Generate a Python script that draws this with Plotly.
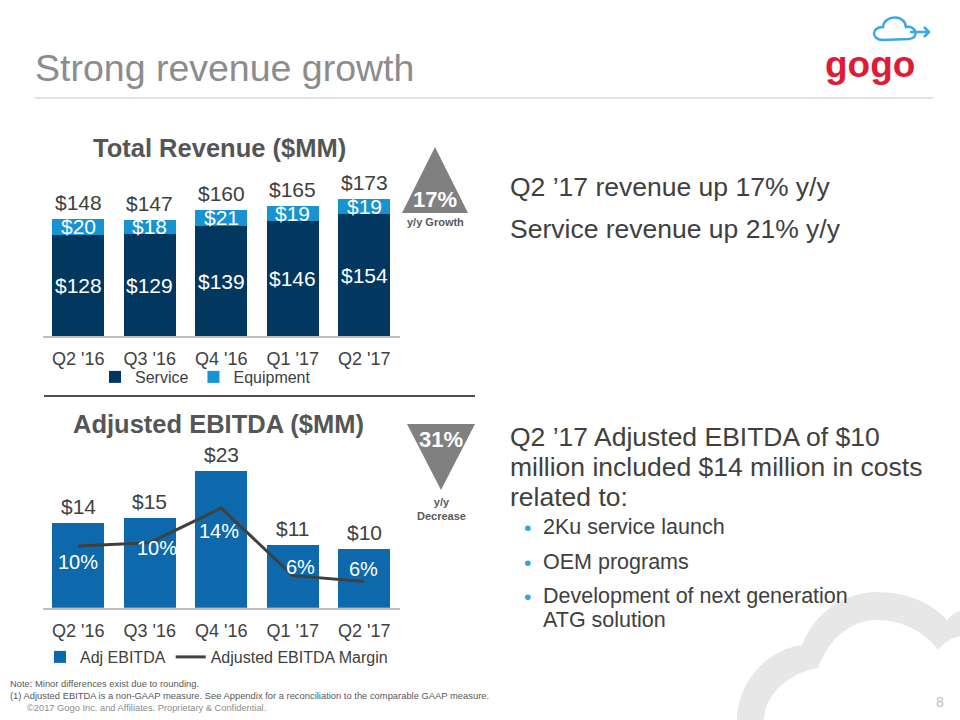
import plotly.graph_objects as go

W, H = 960, 720

# ---------------- data ----------------
quarters = ["Q2 '16", "Q3 '16", "Q4 '16", "Q1 '17", "Q2 '17"]
service = [128, 129, 139, 146, 154]
equipment = [20, 18, 21, 19, 19]
service_labels = ["$128", "$129", "$139", "$146", "$154"]
equipment_labels = ["$20", "$18", "$21", "$19", "$19"]
total_labels = ["$148", "$147", "$160", "$165", "$173"]
ebitda = [14.2, 15.1, 23.0, 10.5, 9.9]
ebitda_labels = ["$14", "$15", "$23", "$11", "$10"]
margin = [9.9, 10.3, 14.4, 6.4, 5.7]
margin_labels = ["10%", "10%", "14%", "6%", "6%"]

# ---------------- style ----------------
FONT = "Liberation Sans, Arial, Helvetica, sans-serif"
NAVY = "#02375f"
LIGHT = "#1793d1"
MID = "#0d69ab"
TXT = "#404040"
GREY_TRI = "#808080"
margin_label_dx = [0, 7, -2, 8, -1]
margin_label_dy = [-16, -5, -23, 9, 13]


def px(x):
    return x / W


def py(y):
    return 1 - y / H


def path(points, close=True):
    s = "M " + " L ".join(f"{px(x):.5f},{py(y):.5f}" for x, y in points)
    return s + (" Z" if close else "")


def P(x, y):
    return f"{px(x):.5f},{py(y):.5f}"


fig = go.Figure()

fig.add_trace(go.Bar(x=quarters, y=service, name="Service", marker=dict(color=NAVY, line=dict(width=0)),
                     xaxis="x", yaxis="y", legend="legend", hoverinfo="skip"))
fig.add_trace(go.Bar(x=quarters, y=equipment, name="Equipment", marker=dict(color=LIGHT, line=dict(width=0)),
                     xaxis="x", yaxis="y", legend="legend", hoverinfo="skip"))
fig.add_trace(go.Bar(x=quarters, y=ebitda, name="Adj EBITDA", marker=dict(color=MID, line=dict(width=0)),
                     xaxis="x2", yaxis="y2", legend="legend2", hoverinfo="skip"))
fig.add_trace(go.Scatter(x=quarters, y=margin, name="Adjusted EBITDA Margin", mode="lines",
                         line=dict(color="#404040", width=3), xaxis="x2", yaxis="y3",
                         legend="legend2", hoverinfo="skip"))

ann = []
for i, q in enumerate(quarters):
    tot = service[i] + equipment[i]
    ann.append(dict(x=q, y=tot, xref="x", yref="y", text=total_labels[i], yanchor="bottom", yshift=3,
                    showarrow=False, font=dict(size=21, color=TXT)))
    ann.append(dict(x=q, y=service[i] / 2, xref="x", yref="y", text=service_labels[i],
                    showarrow=False, font=dict(size=21, color="white")))
    ann.append(dict(x=q, y=service[i] + equipment[i] / 2, xref="x", yref="y", text=equipment_labels[i],
                    showarrow=False, font=dict(size=21, color="white")))
    ann.append(dict(x=q, y=ebitda[i], xref="x2", yref="y2", text=ebitda_labels[i], yanchor="bottom", yshift=3,
                    showarrow=False, font=dict(size=21, color=TXT)))
    ann.append(dict(x=q, y=margin[i], xref="x2", yref="y3", text=margin_labels[i],
                    xshift=margin_label_dx[i], yshift=margin_label_dy[i],
                    showarrow=False, font=dict(size=20, color="white")))


def txt(x, y, text, size, color=TXT, xanchor="left", yanchor="middle", align="left"):
    ann.append(dict(x=px(x), y=py(y), xref="paper", yref="paper", text=text, showarrow=False,
                    xanchor=xanchor, yanchor=yanchor, align=align, font=dict(size=size, color=color)))


# slide texts
txt(33, 68, "Strong revenue growth", 37.5, "#8c8c8c")
txt(219, 148, "<b>Total Revenue ($MM)</b>", 25.5, "#555555", xanchor="center")
txt(218, 424, "<b>Adjusted EBITDA ($MM)</b>", 25.5, "#555555", xanchor="center")
txt(435, 199, "<b>17%</b>", 22, "white", xanchor="center")
txt(435, 222, "<b>y/y Growth</b>", 11, "#595959", xanchor="center")
txt(441, 439, "<b>31%</b>", 22, "white", xanchor="center")
txt(441, 509, "<b>y/y<br>Decrease</b>", 11, "#595959", xanchor="center", align="center")

txt(508, 187, "Q2 ’17 revenue up 17% y/y", 26.5)
txt(508, 229, "Service revenue up 21% y/y", 26.5)
txt(508, 437, "Q2 ’17 Adjusted EBITDA of $10", 26.5)
txt(508, 467, "million included $14 million in costs", 26.5)
txt(508, 497, "related to:", 26.5)
for yb in (527, 562, 596):
    txt(527, yb, "•", 21, "#2fa4dd", xanchor="center")
txt(541, 527, "2Ku service launch", 21.5)
txt(541, 562, "OEM programs", 21.5)
txt(541, 596, "Development of next generation", 21.5)
txt(541, 620, "ATG solution", 21.5)

txt(8, 689.5, "Note: Minor differences exist due to rounding.<br>"
              "(1) Adjusted EBITDA is a non-GAAP measure. See Appendix for a reconciliation to the comparable GAAP measure.",
    9.4, "#595959")
txt(25, 708, "©2017 Gogo Inc. and Affiliates. Proprietary &amp; Confidential.", 9.3, "#8c8c8c")
txt(940, 702, "8", 14, "#bfbfbf", xanchor="center")
txt(870, 64, "<b>gogo</b>", 37, "#e01b36", xanchor="center")

shapes = []
# title rule
shapes.append(dict(type="line", xref="paper", yref="paper", x0=px(35), x1=px(933), y0=py(98), y1=py(98),
                   line=dict(color="#d9d9d9", width=1.5)))
# separator under the revenue chart
shapes.append(dict(type="line", xref="paper", yref="paper", x0=px(44), x1=px(475), y0=py(396), y1=py(396),
                   line=dict(color="#505050", width=2)))
# growth triangles
shapes.append(dict(type="path", xref="paper", yref="paper", path=path([(402, 213), (435, 147), (468, 213)]),
                   fillcolor=GREY_TRI, line=dict(width=0)))
shapes.append(dict(type="path", xref="paper", yref="paper", path=path([(407, 424), (475, 424), (441, 490)]),
                   fillcolor=GREY_TRI, line=dict(width=0)))
# large decorative cloud
cloud = ("M " + P(737, 720) +
         " C " + P(737, 686) + " " + P(764, 650) + " " + P(802, 645) +
         " C " + P(815, 612) + " " + P(845, 592) + " " + P(877, 592) +
         " C " + P(908, 592) + " " + P(933, 604) + " " + P(947, 620) +
         " C " + P(951, 615) + " " + P(956, 612) + " " + P(960, 611) +
         " L " + P(960, 636) +
         " C " + P(950, 638) + " " + P(943, 644) + " " + P(938, 650) +
         " C " + P(925, 632) + " " + P(902, 620) + " " + P(877, 620) +
         " C " + P(850, 620) + " " + P(828, 640) + " " + P(818, 668) +
         " C " + P(790, 672) + " " + P(764, 695) + " " + P(764, 720) + " Z")
shapes.append(dict(type="path", xref="paper", yref="paper", path=cloud, fillcolor="#e7e7e7",
                   line=dict(width=0), layer="below"))
# logo cloud
logo = ("M " + P(883, 40) +
        " C " + P(871, 40) + " " + P(871, 27) + " " + P(883, 27) +
        " C " + P(884, 15) + " " + P(905, 14) + " " + P(906, 27) +
        " C " + P(916, 25) + " " + P(920, 38) + " " + P(909, 39) +
        " L " + P(883, 40))
shapes.append(dict(type="path", xref="paper", yref="paper", path=logo, line=dict(color="#3aa9e0", width=2.5)))
shapes.append(dict(type="path", xref="paper", yref="paper",
                   path="M " + P(910, 32) + " L " + P(929, 32) + " M " + P(924, 27) + " L " + P(929, 32) + " L " + P(924, 37),
                   line=dict(color="#3aa9e0", width=2.5)))

xdom = [px(42.5), px(400)]
axis_common = dict(showgrid=False, zeroline=False, showline=True, linecolor="#bfbfbf", linewidth=1.5,
                   ticks="", tickfont=dict(size=18, color=TXT), ticklabelstandoff=6, fixedrange=True)

fig.update_layout(
    width=W, height=H,
    margin=dict(l=0, r=0, t=0, b=0),
    paper_bgcolor="white", plot_bgcolor="rgba(0,0,0,0)",
    font=dict(family=FONT, color=TXT),
    barmode="stack", bargap=0.27,
    xaxis=dict(domain=xdom, anchor="y", **axis_common),
    yaxis=dict(domain=[py(336), py(178)], range=[0, 200], visible=False, fixedrange=True),
    xaxis2=dict(domain=xdom, anchor="y2", **axis_common),
    yaxis2=dict(domain=[py(607.7), py(460)], range=[0, 24.9], visible=False, fixedrange=True),
    yaxis3=dict(overlaying="y2", range=[2.6, 20.1], visible=False, fixedrange=True),
    legend=dict(x=px(95), y=py(377), xanchor="left", yanchor="middle", orientation="h",
                font=dict(size=16, color=TXT), bgcolor="rgba(0,0,0,0)", itemwidth=30, traceorder="normal"),
    legend2=dict(x=px(40), y=py(657), xanchor="left", yanchor="middle", orientation="h",
                 font=dict(size=16, color=TXT), bgcolor="rgba(0,0,0,0)", itemwidth=30, traceorder="normal"),
    annotations=ann,
    shapes=shapes,
    showlegend=True,
)

fig.write_html("out.html")
